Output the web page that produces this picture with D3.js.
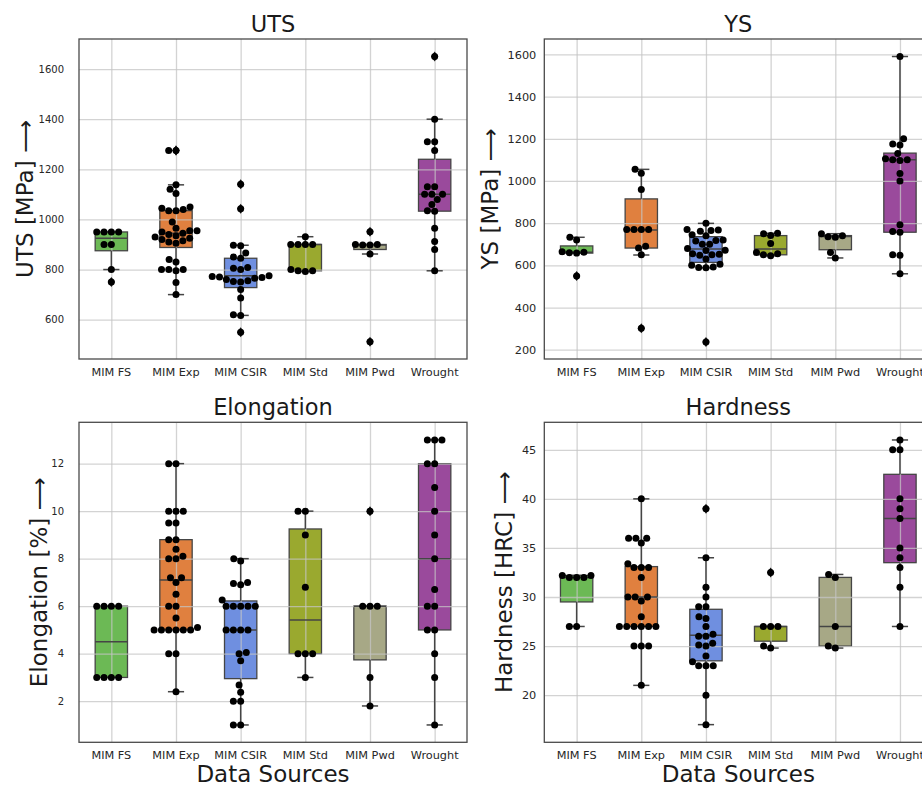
<!DOCTYPE html>
<html>
<head>
<meta charset="utf-8">
<script src="https://cdn.jsdelivr.net/npm/d3@7"></script>
<style>
  body { margin: 0; background: #fff; }
  svg { display: block; font-family: "DejaVu Sans", sans-serif; }
</style>
</head>
<body>
<div id="chart"></div>
<script>
const categories = ['MIM FS', 'MIM Exp', 'MIM CSIR', 'MIM Std', 'MIM Pwd', 'Wrought'];
const boxColors = ['#6cb955', '#e0803f', '#6f8fe0', '#9aa92f', '#a7a886', '#9a4a9c'];

// swarm points per category
const utsPoints = [
    [950, 950, 950, 950, 900, 900, 800, 750],
    [1275, 1275, 1138, 1120, 1103, 1050, 1045, 1040, 1035, 1035, 990, 965, 955, 955, 950, 945, 940, 935, 930, 925, 920, 915, 910, 905, 840, 830, 800, 800, 800, 795, 748, 700],
    [1140, 1043, 897, 895, 866, 850, 845, 808, 805, 800, 775, 772, 770, 768, 765, 760, 755, 752, 750, 720, 686, 620, 617, 550],
    [931, 900, 900, 900, 900, 800, 795, 795, 792],
    [951, 900, 900, 898, 898, 862, 512],
    [1650, 1400, 1310, 1310, 1275, 1130, 1130, 1100, 1100, 1100, 1080, 1060, 1035, 1033, 965, 912, 880, 795]
];
const ysPoints = [
    [733, 720, 665, 662, 660, 658, 550],
    [1055, 1037, 960, 770, 770, 770, 770, 690, 682, 650, 302],
    [799, 770, 768, 765, 762, 745, 740, 720, 718, 715, 700, 700, 680, 672, 670, 655, 652, 650, 648, 630, 605, 600, 592, 590, 588, 237],
    [752, 750, 741, 704, 661, 655, 650, 645],
    [750, 740, 735, 733, 661, 635],
    [1590, 1200, 1175, 1170, 1130, 1105, 1100, 1100, 1097, 1035, 1000, 793, 760, 757, 650, 648, 560]
];
const elongPoints = [
    [6, 6, 6, 6, 3, 3, 3, 3],
    [12, 12, 10, 10, 10, 9.5, 9.5, 8.8, 8.8, 8.4, 8.1, 8, 8, 7.2, 7.2, 7, 6.5, 6, 6, 5.5, 5.1, 5, 5, 5, 5, 5, 5, 4, 4, 2.4],
    [8, 7.9, 7, 6.95, 6.9, 6.26, 6, 6, 6, 6, 6, 5, 5, 5, 5, 4.05, 4, 3.7, 2.68, 2.38, 2, 2, 1, 1],
    [10, 10, 9, 6.8, 4, 4, 4, 3],
    [10, 6, 6, 6, 3, 1.8],
    [13, 13, 13, 12, 12, 11, 10, 9, 8, 6.7, 6, 6, 5, 5, 4, 3, 1]
];
const hardPoints = [
    [32.2, 32.2, 32, 32, 32, 27, 27],
    [40, 36, 36, 36, 35.5, 33.4, 33, 33, 33, 32, 30, 30, 30, 29.6, 28, 27, 27, 27, 27, 27, 27, 25, 25, 25, 21],
    [39, 34, 31, 30, 29, 29, 28, 27.8, 27, 26.2, 26, 26, 25.3, 25.1, 25, 24, 23.4, 23, 23, 23, 20, 17],
    [32.5, 27, 27, 27, 25, 24.8],
    [32.3, 32, 27, 25, 24.8],
    [46, 45, 45, 40, 39, 38, 35, 34, 33, 31, 27]
];

// box stats per category: [q1, median, q3, whisker low, whisker high]
const utsBoxes = [[875, 925, 950, 800, 950], [888, 945, 1035, 700, 1138], [728, 775, 845, 617, 897],
    [795, 900, 900, 792, 931], [880, 898, 900, 862, 900], [1033, 1100, 1240, 795, 1400]];
const ysBoxes = [[658, 662, 692, 658, 733], [682, 768, 915, 649, 1055], [614, 677, 736, 588, 799],
    [650, 677, 741, 645, 752], [674, 737, 741, 635, 750], [757, 1100, 1132, 560, 1590]];
const elongBoxes = [[3, 4.5, 6, 3, 6], [5, 7.1, 8.8, 2.4, 12], [2.95, 5, 6.22, 1, 8],
    [4, 5.42, 9.25, 3, 10], [3.74, 6, 6, 1.8, 6], [5, 8, 12, 1, 13]];
const hardBoxes = [[29.5, 32, 32.2, 27, 32.2], [27, 30, 33.1, 21, 40], [23.5, 26.1, 28.75, 17, 34],
    [25.5, 27, 27, 24.8, 27], [25, 27, 32, 24.8, 32.3], [33.5, 38, 42.5, 27, 46]];

const utsTicks = [600, 800, 1000, 1200, 1400, 1600];
const ysTicks = [200, 400, 600, 800, 1000, 1200, 1400, 1600];
const elongTicks = [2, 4, 6, 8, 10, 12];
const hardTicks = [20, 25, 30, 35, 40, 45];

const panels = [
    { title: 'UTS', yLabel: 'UTS [MPa]', points: utsPoints, boxes: utsBoxes, ticks: utsTicks, domain: [443, 1720],
      left: 79, top: 39, tickFont: 10, tickPad: 15, labelX: 33, xLabel: false },
    { title: 'YS', yLabel: 'YS [MPa]', points: ysPoints, boxes: ysBoxes, ticks: ysTicks, domain: [156, 1673],
      left: 544.3, top: 39, tickFont: 11.3, tickPad: 8, labelX: 498, xLabel: false },
    { title: 'Elongation', yLabel: 'Elongation [%]', points: elongPoints, boxes: elongBoxes, ticks: elongTicks, domain: [0.27, 13.74],
      left: 79, top: 422.3, tickFont: 10, tickPad: 15, labelX: 47, xLabel: true },
    { title: 'Hardness', yLabel: 'Hardness [HRC]', points: hardPoints, boxes: hardBoxes, ticks: hardTicks, domain: [15.2, 47.8],
      left: 544.3, top: 422.3, tickFont: 11.3, tickPad: 8, labelX: 512, xLabel: true }
];

const width = 922, height = 785;
const plotW = 388, plotH = 320;
const dotR = 3.5, dotGap = 7.3;
const edge = '#454545';

const svg = d3.select('#chart').append('svg')
    .attr('width', width)
    .attr('height', height);

// simple beeswarm: place points low to high, closest free spot to centre, left first on ties
function swarm(values, y) {
    const pts = values.map(v => ({ v, py: y(v) })).sort((a, b) => b.py - a.py);
    const placed = [];
    pts.forEach(pt => {
        const near = placed.filter(q => Math.abs(q.py - pt.py) < dotGap);
        const cands = [0];
        near.forEach(q => {
            const dx = Math.sqrt(dotGap * dotGap - (q.py - pt.py) ** 2);
            cands.push(q.dx + dx, q.dx - dx);
        });
        cands.sort((a, b) => (Math.round(Math.abs(a) * 100) - Math.round(Math.abs(b) * 100)) || (a - b));
        pt.dx = cands.find(c => near.every(q => (q.dx - c) ** 2 + (q.py - pt.py) ** 2 >= dotGap * dotGap - 0.05));
        placed.push(pt);
    });
    return placed;
}

function drawPanel(p) {
    const g = svg.append('g').attr('transform', `translate(${p.left},${p.top})`);

    const x = d3.scaleBand().domain(categories).range([0, plotW]);
    const y = d3.scaleLinear().domain(p.domain).range([plotH, 0]);
    const bw = x.bandwidth() * 0.5;
    const cx = c => x(c) + x.bandwidth() / 2;

    const boxData = categories.map((c, i) => ({ c, i, s: p.boxes[i], pts: p.points[i] }));

    // boxes
    g.selectAll('.box').data(boxData).enter().append('rect')
        .attr('x', d => cx(d.c) - bw / 2)
        .attr('width', bw)
        .attr('y', d => y(d.s[2]))
        .attr('height', d => y(d.s[0]) - y(d.s[2]))
        .attr('fill', d => boxColors[d.i])
        .attr('stroke', edge)
        .attr('stroke-width', 1.3);

    // grid on top of boxes
    g.append('g')
        .call(d3.axisLeft(y).tickValues(p.ticks).tickSize(-plotW).tickFormat(''))
        .call(a => a.select('.domain').remove())
        .selectAll('line').attr('stroke', '#c4c4c4').attr('stroke-opacity', 0.75).attr('stroke-width', 1.3);
    g.append('g')
        .call(d3.axisBottom(d3.scalePoint().domain(categories).range([cx(categories[0]), cx(categories[5])]))
            .tickSize(plotH).tickFormat(''))
        .call(a => a.select('.domain').remove())
        .selectAll('line').attr('stroke', '#c4c4c4').attr('stroke-opacity', 0.75).attr('stroke-width', 1.3);

    // whiskers, caps, medians
    const wk = g.append('g').attr('stroke', edge).attr('stroke-width', 1.5);
    boxData.forEach(d => {
        const xc = cx(d.c);
        wk.append('line').attr('x1', xc).attr('x2', xc).attr('y1', y(d.s[2])).attr('y2', y(d.s[4]));
        wk.append('line').attr('x1', xc).attr('x2', xc).attr('y1', y(d.s[0])).attr('y2', y(d.s[3]));
        wk.append('line').attr('x1', xc - bw / 4).attr('x2', xc + bw / 4).attr('y1', y(d.s[4])).attr('y2', y(d.s[4]));
        wk.append('line').attr('x1', xc - bw / 4).attr('x2', xc + bw / 4).attr('y1', y(d.s[3])).attr('y2', y(d.s[3]));
        wk.append('line').attr('x1', xc - bw / 2).attr('x2', xc + bw / 2).attr('y1', y(d.s[1])).attr('y2', y(d.s[1]));
    });

    // fliers (thin diamonds) outside the whiskers
    boxData.forEach(d => {
        const out = d.pts.filter(v => v < d.s[3] - 1e-9 || v > d.s[4] + 1e-9);
        g.selectAll(null).data(out).enter().append('path')
            .attr('d', 'M0,-5L3.6,0L0,5L-3.6,0Z')
            .attr('transform', v => `translate(${cx(d.c)},${y(v)})`)
            .attr('fill', '#111');
    });

    // swarm points
    boxData.forEach(d => {
        g.selectAll(null).data(swarm(d.pts, y)).enter().append('circle')
            .attr('cx', q => cx(d.c) + q.dx)
            .attr('cy', q => q.py)
            .attr('r', dotR)
            .attr('fill', '#000');
    });

    // frame
    g.append('rect')
        .attr('width', plotW).attr('height', plotH)
        .attr('fill', 'none').attr('stroke', '#4a4a4a').attr('stroke-width', 1.3);

    // y tick labels
    g.append('g')
        .call(d3.axisLeft(y).tickValues(p.ticks).tickSize(0).tickPadding(p.tickPad).tickFormat(d3.format('d')))
        .call(a => a.select('.domain').remove())
        .selectAll('text')
        .attr('font-family', '"DejaVu Sans", sans-serif')
        .attr('font-size', p.tickFont)
        .attr('fill', '#262626');

    // x tick labels
    g.append('g')
        .attr('transform', `translate(0,${plotH})`)
        .call(d3.axisBottom(x).tickSize(0).tickPadding(9))
        .call(a => a.select('.domain').remove())
        .selectAll('text')
        .attr('font-family', '"DejaVu Sans", sans-serif')
        .attr('font-size', 11.3)
        .attr('fill', '#262626');

    // title
    g.append('text')
        .attr('x', plotW / 2).attr('y', -7)
        .attr('text-anchor', 'middle')
        .attr('font-size', 22.5)
        .attr('fill', '#1a1a1a')
        .text(p.title);

    // y label with arrow
    svg.append('text')
        .attr('transform', `translate(${p.labelX},${p.top + plotH / 2}) rotate(-90)`)
        .attr('text-anchor', 'middle')
        .attr('font-size', 23)
        .attr('fill', '#1a1a1a')
        .text(p.yLabel + '  \u27F6');

    if (p.xLabel) {
        g.append('text')
            .attr('x', plotW / 2).attr('y', plotH + 40)
            .attr('text-anchor', 'middle')
            .attr('font-size', 23)
            .attr('fill', '#1a1a1a')
            .text('Data Sources');
    }
}

panels.forEach(drawPanel);
</script>
</body>
</html>
